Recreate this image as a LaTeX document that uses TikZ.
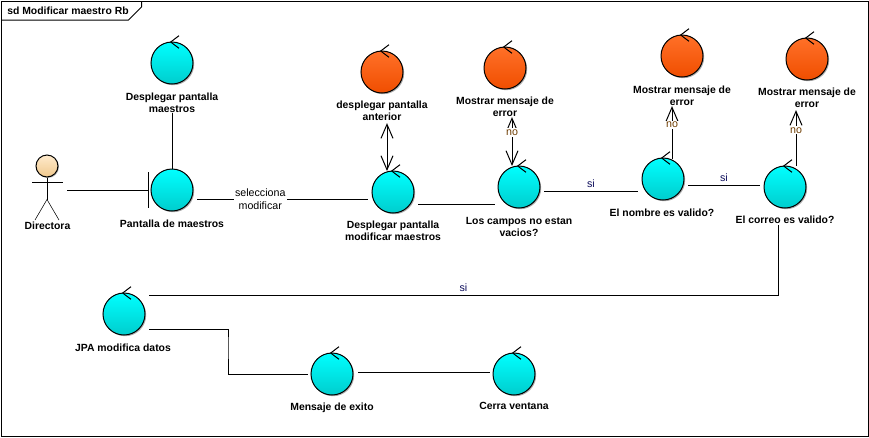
\documentclass[tikz,border=0pt]{standalone}
\usepackage{fontspec}
\setmainfont{Liberation Sans}
\usetikzlibrary{arrows.meta,calc,shadows}
\definecolor{cyanT}{RGB}{0,255,255}
\definecolor{cyanB}{RGB}{0,205,205}
\definecolor{orangeT}{RGB}{255,112,40}
\definecolor{orangeB}{RGB}{240,78,0}
\definecolor{skinT}{RGB}{255,235,205}
\definecolor{skinB}{RGB}{240,200,140}
\definecolor{nolabel}{RGB}{110,60,0}
\definecolor{silabel}{RGB}{10,10,90}
\tikzset{
  x=0.75pt,y=-0.75pt,
  line width=0.75pt,
  ctrlbase/.style={circle,draw=black,line width=0.75pt,minimum size=31.5pt,inner sep=0pt,outer sep=0pt,
    drop shadow={shadow xshift=0.9pt,shadow yshift=-0.9pt,fill=black!45,opacity=.7}},
  ctrlcyan/.style={ctrlbase,top color=cyanT,bottom color=cyanB,shading angle=0},
  ctrlorange/.style={ctrlbase,top color=orangeT,bottom color=orangeB,shading angle=0},
  name text/.style={font=\fontsize{7.8}{9}\selectfont\bfseries,align=center,inner sep=0pt,text=black},
  edge text/.style={font=\fontsize{8}{9}\selectfont,align=center,inner sep=1pt,fill=white},
  si text/.style={font=\fontsize{8}{9}\selectfont,inner sep=0pt,text=silabel,above=2pt},
  conn/.style={draw=black,line width=0.75pt},
  barb/.style={-{Straight Barb[length=10.5pt,width=9pt,line width=0.75pt]}},
  barbboth/.style={{Straight Barb[length=10.5pt,width=9pt,line width=0.75pt]}-{Straight Barb[length=10.5pt,width=9pt,line width=0.75pt]}},
}
\newcommand{\tickmark}[1]{\draw[line width=0.75pt] ($(#1)+(7,-27.3)$) -- ($(#1)+(-1.3,-21)$) -- ($(#1)+(7,-14.7)$);}
\begin{document}
\begin{tikzpicture}
\useasboundingbox (0,0) rectangle (869,437);
\fill[white] (0,0) rectangle (869,437);
% frame
\draw[line width=0.75pt] (1.5,1.5) rectangle (868,436);
\draw[line width=0.75pt] (1.5,20) -- (128.5,20) -- (141.5,7) -- (141.5,1.5);
\node[anchor=west,font=\fontsize{7.8}{9}\selectfont\bfseries,inner sep=0pt] (title) at (7,11) {sd Modificar maestro Rb};

% control circles
\node[ctrlcyan] (dm) at (172,63) {};
\node[ctrlcyan] (pm) at (172,190) {};
\node[ctrlorange] (da) at (382,72) {};
\node[ctrlorange] (e1) at (505,68) {};
\node[ctrlorange] (e2) at (682,56) {};
\node[ctrlorange] (e3) at (807,59) {};
\node[ctrlcyan] (dp) at (393,192) {};
\node[ctrlcyan] (cv) at (519,187) {};
\node[ctrlcyan] (nv) at (663,179) {};
\node[ctrlcyan] (cr) at (785,187) {};
\node[ctrlcyan] (jpa) at (124,314) {};
\node[ctrlcyan] (me) at (332,374) {};
\node[ctrlcyan] (ce) at (514,374) {};
\foreach \n in {dm,da,e1,e2,e3,dp,cv,nv,cr,jpa,me,ce} {\tickmark{\n}}

% actor
\node[circle,draw=black,line width=0.75pt,minimum size=16.5pt,inner sep=0pt,top color=skinT,bottom color=skinB,
  drop shadow={shadow xshift=0.7pt,shadow yshift=-0.7pt,fill=black!45,opacity=.7}] (act) at (47,166) {};
\draw (act.south) -- ++(0,22) coordinate (hip);
\draw (32,182) -- (63,182);
\draw (35,220) -- (hip) -- (59,220);
\coordinate (actR) at (67,190);

% names
\node[name text] (tdm) at (172,102.5) {Desplegar pantalla\\maestros};
\node[name text] (tpm) at (172,224) {Pantalla de maestros};
\node[name text] (tac) at (47.5,226) {Directora};
\node[name text] (tda) at (382,111) {desplegar pantalla\\anterior};
\node[name text] (te1) at (505,107) {Mostrar mensaje de\\error};
\node[name text] (te2) at (682,96) {Mostrar mensaje de\\error};
\node[name text] (te3) at (807,98) {Mostrar mensaje de\\error};
\node[name text] (tdp) at (393,231) {Desplegar pantalla\\modificar maestros};
\node[name text] (tcv) at (519,227) {Los campos no estan\\vacios?};
\node[name text] (tnv) at (662,212.5) {El nombre es valido?};
\node[name text] (tcr) at (785,220) {El correo es valido?};
\node[name text] (tjp) at (123,348) {JPA modifica datos};
\node[name text] (tme) at (332,408) {Mensaje de exito};
\node[name text] (tce) at (514,406) {Cerra ventana};

% connectors
\draw[conn] (actR) -- ($(pm)+(-24,0)$);
\draw[conn] ($(pm)+(-24,-18)$) -- ($(pm)+(-24,18)$);
\draw[conn] (tdm.south -| pm) -- (pm.north);
\draw[conn] ($(pm)+(25,9)$) -- node[edge text,pos=.37] (l1) {selecciona\\[1pt]modificar} ($(dp)+(-25,7)$);
\draw[conn] ($(dp)+(25,12)$) -- ($(cv)+(-24,17)$);
\draw[conn] ($(cv)+(25,4)$) -- node[pos=.5,si text] (l2) {si} ($(nv)+(-25,12)$);
\draw[conn] ($(nv)+(25,6)$) -- node[pos=.5,si text] (l3) {si} ($(cr)+(-25,-2)$);
\draw[conn,barbboth] ($(dp)+(-6,-21)$) -- ($(tda.south -| dp)+(-6,2)$);
\draw[conn,barbboth] ($(cv)+(-7,-21)$) -- node[edge text,text=nolabel,pos=.68] (l4) {no} ($(te1.south -| cv)+(-7,0)$);
\draw[conn,barb] ($(nv)+(9,-20)$) -- node[edge text,text=nolabel,pos=.64] (l5) {no} ($(te2.south -| nv)+(9,0)$);
\draw[conn,barb] ($(cr)+(11,-21)$) -- node[edge text,text=nolabel,pos=.64] (l6) {no} ($(te3.south -| cr)+(11,2)$);
\draw[conn] ($(cr)+(-7,38)$) |- node[pos=.75,si text] (l7) {si} ($(jpa)+(25,-19)$);
\draw[conn] ($(jpa)+(25,15)$) -| ($(jpa)!.5!(me)$) |- ($(me)+(-24,0)$);
\draw[conn] ($(me)+(26,-2)$) -- ($(ce)+(-24,-2)$);
\end{tikzpicture}
\end{document}
